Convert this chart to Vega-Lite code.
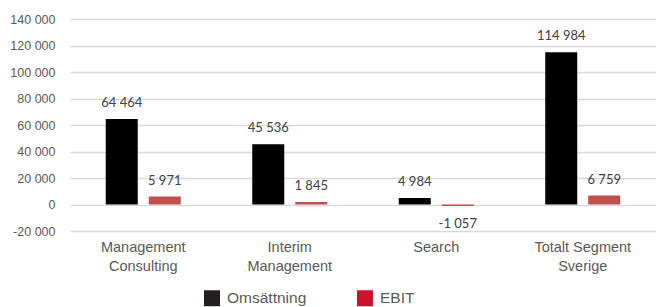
{
  "$schema": "https://vega.github.io/schema/vega-lite/v6.json",
  "autosize": {"type": "none"},
  "width": 586,
  "height": 212,
  "padding": {"left": 70, "top": 19, "right": 0, "bottom": 76},
  "background": "white",
  "config": {
    "view": {"stroke": null},
    "locale": {"number": {"decimal": ",", "thousands": " ", "grouping": [3], "currency": ["", " kr"], "minus": "-"}}
  },
  "data": {
    "values": [
      {"segment": "Management Consulting", "serie": "Omsättning", "value": 64464},
      {"segment": "Management Consulting", "serie": "EBIT", "value": 5971},
      {"segment": "Interim Management", "serie": "Omsättning", "value": 45536},
      {"segment": "Interim Management", "serie": "EBIT", "value": 1845},
      {"segment": "Search", "serie": "Omsättning", "value": 4984},
      {"segment": "Search", "serie": "EBIT", "value": -1057},
      {"segment": "Totalt Segment Sverige", "serie": "Omsättning", "value": 114984},
      {"segment": "Totalt Segment Sverige", "serie": "EBIT", "value": 6759}
    ]
  },
  "encoding": {
    "x": {
      "field": "segment", "type": "nominal", "sort": null,
      "scale": {"paddingInner": 0, "paddingOuter": 0},
      "axis": {
        "title": null, "labelAngle": 0, "domain": false, "ticks": false,
        "labelPadding": 9, "labelFont": "Liberation Sans", "labelFontSize": 14.5,
        "labelColor": "#595959", "labelBaseline": "top", "labelLineHeight": 19,
        "labelExpr": "datum.label == 'Totalt Segment Sverige' ? ['Totalt Segment', 'Sverige'] : split(datum.label, ' ')"
      }
    },
    "xOffset": {
      "field": "serie", "type": "nominal", "sort": ["Omsättning", "EBIT"],
      "scale": {"paddingInner": 0.2558, "paddingOuter": 0.831}
    },
    "y": {
      "field": "value", "type": "quantitative",
      "scale": {"domain": [-20000, 140000], "nice": false, "zero": false},
      "axis": {
        "title": null, "values": [-20000, 0, 20000, 40000, 60000, 80000, 100000, 120000, 140000],
        "format": ",d", "domain": false, "ticks": false, "labelPadding": 15,
        "labelFont": "Liberation Sans", "labelFontSize": 12.5, "labelColor": "#595959",
        "gridColor": "#d9d9d9", "gridWidth": 1.3
      }
    }
  },
  "layer": [
    {
      "mark": {"type": "bar", "orient": "vertical", "fill": {"expr": "datum.serie == 'EBIT' ? '#c0504d' : '#000000'"}},
      "encoding": {
        "y2": {"datum": 0},
        "color": {
          "field": "serie", "type": "nominal", "sort": ["Omsättning", "EBIT"],
          "scale": {"domain": ["Omsättning", "EBIT"], "range": ["#231f20", "#d0112b"]},
          "legend": {
            "title": null, "orient": "none", "direction": "horizontal",
            "legendX": 134, "legendY": 271,
            "symbolType": "square", "symbolSize": 256, "symbolStrokeWidth": 0,
            "labelFont": "Liberation Sans", "labelFontSize": 15.5, "labelColor": "#595959",
            "labelOffset": 7, "columnPadding": 50
          }
        }
      }
    },
    {
      "transform": [{"filter": "datum.value >= 0"}],
      "mark": {"type": "text", "baseline": "bottom", "dy": -9, "font": "Lato", "fontSize": 13, "color": "#404040"},
      "encoding": {"text": {"field": "value", "type": "quantitative", "format": ",d"}}
    },
    {
      "transform": [{"filter": "datum.value < 0"}],
      "mark": {"type": "text", "baseline": "top", "dy": 12, "font": "Lato", "fontSize": 13, "color": "#404040"},
      "encoding": {"text": {"field": "value", "type": "quantitative", "format": ",d"}}
    }
  ]
}
